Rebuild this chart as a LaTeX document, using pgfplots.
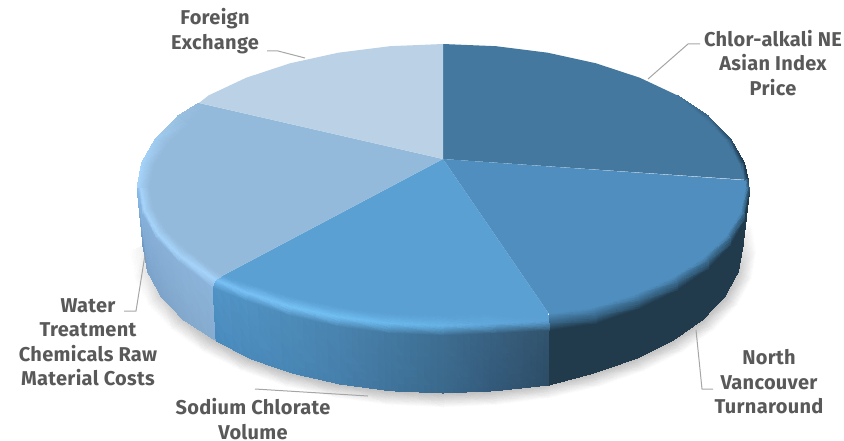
\documentclass[border=0pt]{standalone}
\usepackage{fontspec}
\setmainfont{Fira Sans}[LetterSpace=1.5]
\usepackage{pgfplots}
\pgfplotsset{compat=1.18}
\definecolor{chlorface}{RGB}{68,120,159}
\definecolor{northface}{RGB}{79,142,190}
\definecolor{sodiumface}{RGB}{91,160,211}
\definecolor{waterface}{RGB}{148,186,219}
\definecolor{forexface}{RGB}{187,209,230}
\definecolor{leader}{RGB}{166,166,166}
\definecolor{labeltext}{RGB}{89,89,89}
\pgfplotsset{
  rim/.style={surf, shader=interp, mesh/color input=explicit, mesh/ordering=y varies},
  lead/.style={leader, line width=1pt, no marks},
}
\begin{document}
\begin{tikzpicture}
\begin{axis}[
  width=844pt, height=441pt, scale only axis, hide axis,
  xmin=0, xmax=844, ymin=0, ymax=441, y dir=reverse, clip=false,
  enlargelimits=false,
]
% full extent of the picture
\path (axis cs:0,0) rectangle (axis cs:844,441);
% soft drop shadow under the disc
\addplot[rim, mesh/rows=2, mesh/cols=20] table[meta=c] {
x y c
738.4 220.5 rgb255=255,255,255
752.2 224.9 rgb255=255,255,255
743.0 246.0 rgb255=222,222,222
757.0 252.0 rgb255=255,255,255
738.4 271.5 rgb255=200,200,200
752.2 279.1 rgb255=255,255,255
724.9 296.3 rgb255=190,190,190
738.1 305.4 rgb255=255,255,255
702.8 319.5 rgb255=190,190,190
714.9 330.0 rgb255=255,255,255
672.8 340.5 rgb255=190,190,190
683.5 352.3 rgb255=255,255,255
635.8 358.6 rgb255=190,190,190
644.8 371.5 rgb255=255,255,255
593.0 373.3 rgb255=190,190,190
600.0 387.1 rgb255=255,255,255
545.6 384.1 rgb255=190,190,190
550.4 398.6 rgb255=255,255,255
495.0 390.8 rgb255=190,190,190
497.5 405.6 rgb255=255,255,255
443.0 393.0 rgb255=190,190,190
443.0 408.0 rgb255=255,255,255
391.0 390.8 rgb255=190,190,190
388.5 405.6 rgb255=255,255,255
340.4 384.1 rgb255=190,190,190
335.6 398.6 rgb255=255,255,255
293.0 373.3 rgb255=190,190,190
286.0 387.1 rgb255=255,255,255
250.2 358.6 rgb255=190,190,190
241.2 371.5 rgb255=255,255,255
213.2 340.5 rgb255=195,195,195
202.5 352.3 rgb255=255,255,255
183.2 319.5 rgb255=200,200,200
171.1 330.0 rgb255=255,255,255
161.1 296.3 rgb255=210,210,210
147.9 305.4 rgb255=255,255,255
147.6 271.5 rgb255=225,225,225
133.8 279.1 rgb255=255,255,255
143.0 246.0 rgb255=240,240,240
129.0 252.0 rgb255=255,255,255
};
% top faces of the five slices
\addplot[fill=chlorface, draw=none] coordinates {
 (443,159) (443,44) (496.1,46.2) (547.7,52.7) (596,63.3) (639.7,77.7)
 (677.4,95.4) (708,116) (730.5,138.8) (744.4,163) (748.4,180)} -- cycle;
\addplot[fill=northface, draw=none] coordinates {
 (443,159) (745.4,180.3) (749,188) (744.4,213) (730.5,237.2) (708,260)
 (677.4,280.6) (639.7,298.3) (596,312.7) (549,314)} -- cycle;
\addplot[fill=sodiumface, draw=none] coordinates {
 (443,159) (547,311) (496.1,329.8) (443,332) (389.9,329.8) (338.3,323.3)
 (290,312.7) (246.3,298.3) (222,276)} -- cycle;
\addplot[fill=waterface, draw=none] coordinates {
 (443,159) (222,276) (208.6,280.6) (178,260) (155.5,237.2) (141.6,213) (137,188)
 (141.6,163) (155.5,138.8) (178,116) (199,103)} -- cycle;
\addplot[fill=forexface, draw=none] coordinates {
 (443,159) (199,103) (208.6,95.4) (246.3,77.7) (290,63.3) (338.3,52.7)
 (389.9,46.2) (443,44)} -- cycle;
% outer wall and bevel of the Sodium Chlorate slice
\addplot[rim, mesh/rows=4, mesh/cols=8] table[meta=c] {
x y c
547.0 311.0 rgb255=91,160,211
549.0 321.0 rgb255=92,160,212
550.0 331.0 rgb255=50,84,110
549.0 385.0 rgb255=45,77,102
494.0 314.1 rgb255=91,160,211
495.6 323.9 rgb255=96,168,220
496.1 333.8 rgb255=56,96,128
495.0 390.8 rgb255=51,89,122
443.0 316.0 rgb255=91,160,211
443.0 326.0 rgb255=102,178,230
443.0 336.0 rgb255=62,110,146
443.0 393.0 rgb255=58,105,140
392.0 314.1 rgb255=91,160,211
390.4 323.9 rgb255=106,184,236
389.9 333.8 rgb255=68,122,162
391.0 390.8 rgb255=64,116,156
342.5 308.3 rgb255=91,160,211
339.4 317.7 rgb255=112,190,242
338.3 327.1 rgb255=74,132,176
340.4 384.1 rgb255=70,127,172
296.0 298.8 rgb255=91,160,211
291.5 307.5 rgb255=118,194,245
290.0 316.2 rgb255=78,140,186
293.0 373.3 rgb255=72,134,181
254.0 286.0 rgb255=91,160,211
248.2 293.7 rgb255=120,192,245
246.3 301.4 rgb255=80,146,194
250.2 358.6 rgb255=74,138,187
222.0 276.0 rgb255=91,160,211
215.0 280.0 rgb255=120,192,245
212.0 288.0 rgb255=82,148,198
215.0 340.0 rgb255=74,140,191
};
% outer wall and bevel of the Water Treatment slice
\addplot[rim, mesh/rows=4, mesh/cols=5] table[meta=c] {
x y c
222.0 276.0 rgb255=148,186,219
215.0 280.0 rgb255=165,211,250
212.0 288.0 rgb255=140,180,218
215.0 340.0 rgb255=134,172,207
188.4 252.0 rgb255=148,186,219
180.6 257.0 rgb255=165,211,250
178.0 262.0 rgb255=138,178,216
183.2 319.5 rgb255=130,168,204
166.7 231.8 rgb255=148,186,219
158.3 235.2 rgb255=165,211,250
155.5 238.6 rgb255=136,176,216
161.1 296.3 rgb255=126,164,202
153.5 210.2 rgb255=148,186,219
144.6 212.0 rgb255=165,211,250
141.6 213.7 rgb255=134,176,218
147.6 271.5 rgb255=123,163,202
149.0 188.0 rgb255=148,186,219
140.0 188.0 rgb255=165,211,250
137.0 188.0 rgb255=138,188,235
143.0 246.0 rgb255=112,153,194
};
% light rim running up the left side
\addplot[rim, mesh/rows=2, mesh/cols=5] table[meta=c] {
x y c
149.0 188.0 rgb255=148,186,219
137.0 188.0 rgb255=165,211,250
153.5 165.8 rgb255=148,186,219
141.6 163.0 rgb255=165,211,250
166.7 144.2 rgb255=148,186,219
155.5 138.8 rgb255=160,203,239
188.4 124.0 rgb255=148,186,219
178.0 116.0 rgb255=152,192,224
203.0 108.0 rgb255=148,186,219
199.0 103.0 rgb255=148,186,219
};
% dark rim at the right end of the Chlor-alkali slice
\addplot[rim, mesh/rows=2, mesh/cols=5] table[meta=c] {
x y c
673.6 97.4 rgb255=68,120,159
677.4 95.4 rgb255=68,120,159
703.7 117.5 rgb255=68,120,159
708.0 116.0 rgb255=56,100,135
725.8 139.8 rgb255=68,120,159
730.5 138.8 rgb255=44,80,110
739.4 163.5 rgb255=68,120,159
744.4 163.0 rgb255=31,58,80
744.4 180.1 rgb255=68,120,159
748.4 180.0 rgb255=31,58,80
};
% outer wall and soft edge of the North Vancouver slice
\addplot[rim, mesh/rows=4, mesh/cols=9] table[meta=c] {
x y c
745.4 180.3 rgb255=79,142,190
748.4 179.7 rgb255=40,72,96
748.4 187.7 rgb255=33,59,77
742.4 237.8 rgb255=33,59,77
746.0 188.0 rgb255=79,142,190
749.0 188.0 rgb255=50,90,118
749.0 196.0 rgb255=33,59,77
743.0 246.0 rgb255=33,59,77
741.4 212.0 rgb255=79,142,190
744.4 213.7 rgb255=56,103,137
744.4 221.7 rgb255=33,59,77
738.4 271.5 rgb255=33,59,77
727.7 235.2 rgb255=79,142,190
730.5 238.6 rgb255=56,103,137
730.5 246.6 rgb255=33,59,77
724.9 296.3 rgb255=33,59,77
705.4 257.0 rgb255=79,142,190
708.0 262.0 rgb255=56,103,137
708.0 270.0 rgb255=33,59,77
702.8 319.5 rgb255=33,59,77
675.1 276.7 rgb255=79,142,190
677.4 283.1 rgb255=56,103,137
677.4 291.1 rgb255=33,59,77
672.8 340.5 rgb255=33,59,77
637.8 293.7 rgb255=79,142,190
639.7 301.4 rgb255=56,103,137
639.7 309.4 rgb255=33,59,77
635.8 358.6 rgb255=33,59,77
594.5 307.5 rgb255=79,142,190
596.0 316.2 rgb255=56,103,137
596.0 324.2 rgb255=33,59,77
593.0 373.3 rgb255=33,59,77
549.0 314.0 rgb255=79,142,190
550.0 323.0 rgb255=56,103,137
550.0 331.0 rgb255=33,59,77
549.0 385.0 rgb255=33,59,77
};
% leader lines
\addplot[lead] coordinates {(267,51) (278,51) (305,58)};
\addplot[lead] coordinates {(700,44) (688,44) (648,79)};
\addplot[lead] coordinates {(696,330) (702,389) (713,389)};
\addplot[lead] coordinates {(255,389) (368,396)};
\addplot[lead] coordinates {(124,311) (136,311) (145,255)};
% slice labels
\tikzset{slice label/.style={align=center, text=labeltext, inner sep=0pt,
  font=\fontsize{20}{24.5}\selectfont\bfseries}}
\node[slice label] at (axis cs:215,31) {Foreign\\Exchange};
\node[slice label] at (axis cs:773,63) {Chlor-alkali NE\\Asian Index\\Price};
\node[slice label] at (axis cs:769,382) {North\\Vancouver\\Turnaround};
\node[slice label] at (axis cs:253,419) {Sodium Chlorate\\Volume};
\node[slice label] at (axis cs:88,342) {Water\\Treatment\\Chemicals Raw\\Material Costs};
\end{axis}
\end{tikzpicture}
\end{document}
